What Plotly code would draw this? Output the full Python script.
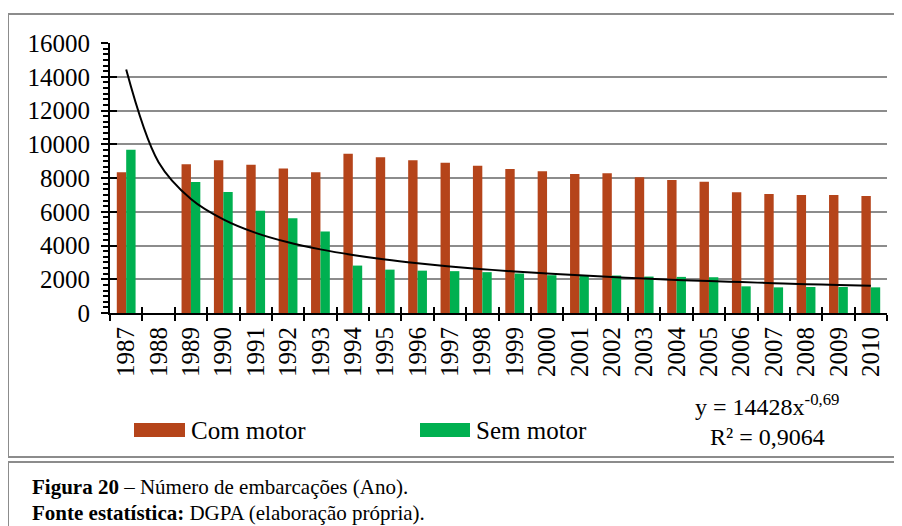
import plotly.graph_objects as go

# ================================ Datos ================================
anos = [str(a) for a in range(1987, 2011)]

com_motor = [8340, None, 8810, 9050, 8790, 8570, 8340, 9430, 9230, 9050, 8910, 8730,
             8530, 8400, 8240, 8280, 8040, 7880, 7780, 7150, 7050, 6990, 6990, 6930]

sem_motor = [9680, None, 7760, 7170, 6060, 5620, 4830, 2810, 2570, 2510, 2480, 2420,
             2340, 2240, 2240, 2220, 2160, 2140, 2120, 1580, 1520, 1540, 1540, 1520]

# tendencia potencial (valores lidos sobre a curva)
tendencia = [14430, 8940, 6760, 5550, 4750, 4190, 3770, 3440, 3170, 2950, 2760, 2600,
             2460, 2340, 2230, 2130, 2040, 1960, 1890, 1830, 1770, 1710, 1660, 1610]

y_ticks = [0, 2000, 4000, 6000, 8000, 10000, 12000, 14000, 16000]

# ================================ Configuração ================================
OFF = 8  # margem do body da página
W, H = 902 - OFF, 526 - OFF
L, R, T, B = 110 - OFF, 15, 43 - OFF, 213
PW, PH = W - L - R, H - T - B
FONT = 'Liberation Serif, DejaVu Serif, serif'
LARANJA = '#B5441A'
VERDE = '#00B050'
CINZA = '#8C8C8C'


def px_x(p):
    return (p - OFF - L) / PW


def px_y(p):
    return (H - B - (p - OFF)) / PH


def linha(x0, y0, x1, y1):
    fig.add_shape(type='line', xref='paper', yref='paper',
                  x0=px_x(x0), x1=px_x(x1), y0=px_y(y0), y1=px_y(y1),
                  line=dict(color=CINZA, width=2), layer='below')


fig = go.Figure()
fig.add_trace(go.Bar(x=anos, y=com_motor, name='Com motor', marker_color=LARANJA,
                     marker_line_width=0))
fig.add_trace(go.Bar(x=anos, y=sem_motor, name='Sem motor', marker_color=VERDE,
                     marker_line_width=0))
fig.add_trace(go.Scatter(x=anos, y=tendencia, mode='lines', line=dict(color='black', width=2, shape='spline'),
                         showlegend=False, hoverinfo='skip'))
# eixo auxiliar para as marcas cruzadas
fig.add_trace(go.Scatter(x=anos, y=[None] * len(anos), xaxis='x2', yaxis='y2',
                         mode='lines', showlegend=False, hoverinfo='skip'))

fig.update_layout(
    width=W, height=H,
    margin=dict(l=L, r=R, t=T, b=B),
    paper_bgcolor='white', plot_bgcolor='white',
    barmode='group', bargap=0.42, bargroupgap=0,
    showlegend=False,
    font=dict(family=FONT, size=24, color='black'),
    xaxis=dict(
        type='category', categoryarray=anos, range=[-0.5, 23.5],
        tickson='boundaries', ticks='outside', ticklen=6, tickwidth=2, tickcolor='black',
        showline=True, linecolor='black', linewidth=2, showgrid=False,
        tickangle=-90, tickfont=dict(family=FONT, size=25), ticklabelstandoff=2,
    ),
    yaxis=dict(
        range=[0, 16000], tickvals=y_ticks, tickformat='d', ticks='outside', ticklen=7, tickwidth=2,
        tickcolor='black', showline=True, linecolor='black', linewidth=2,
        showgrid=True, gridcolor=CINZA, gridwidth=2, zeroline=False,
        tickfont=dict(family=FONT, size=25), ticklabelstandoff=6,
        minor=dict(dtick=2000 / 6, ticks='outside', ticklen=5, tickwidth=2, tickcolor='black',
                   showgrid=False),
    ),
    xaxis2=dict(
        type='category', categoryarray=anos, range=[-0.5, 23.5], overlaying='x',
        tickson='boundaries', ticks='inside', ticklen=6, tickwidth=2, tickcolor='black',
        showticklabels=False, showgrid=False, showline=False, anchor='y2',
    ),
    yaxis2=dict(
        range=[0, 16000], tickvals=y_ticks, overlaying='y', ticks='inside', ticklen=7,
        tickwidth=2, tickcolor='black', showticklabels=False, showgrid=False,
        showline=False, zeroline=False, anchor='x2',
    ),
)

# molduras (sem lado direito visível)
linha(8, 14, 905, 14)
linha(8, 14, 8, 457)
linha(8, 457, 905, 457)
linha(8, 462, 905, 462)
linha(8, 462, 8, 530)

# legenda
fig.add_shape(type='rect', xref='paper', yref='paper',
              x0=px_x(134), x1=px_x(185), y0=px_y(437), y1=px_y(423),
              fillcolor=LARANJA, line_width=0)
fig.add_shape(type='rect', xref='paper', yref='paper',
              x0=px_x(420), x1=px_x(470), y0=px_y(437), y1=px_y(423),
              fillcolor=VERDE, line_width=0)
fig.add_annotation(text='Com motor', xref='paper', yref='paper', x=px_x(189), y=px_y(430),
                   xanchor='left', yanchor='middle', showarrow=False, font=dict(size=25))
fig.add_annotation(text='Sem motor', xref='paper', yref='paper', x=px_x(474), y=px_y(430),
                   xanchor='left', yanchor='middle', showarrow=False, font=dict(size=25))

# equação da tendência
fig.add_annotation(text='y = 14428x<sup>-0,69</sup>', xref='paper', yref='paper',
                   x=px_x(767), y=px_y(405), xanchor='center', yanchor='middle',
                   showarrow=False, font=dict(size=24))
fig.add_annotation(text='R² = 0,9064', xref='paper', yref='paper',
                   x=px_x(767), y=px_y(437), xanchor='center', yanchor='middle',
                   showarrow=False, font=dict(size=24))

# legenda da figura
fig.add_annotation(text='<b>Figura 20</b> – Número de embarcações (Ano).', xref='paper', yref='paper',
                   x=px_x(30), y=px_y(487), xanchor='left', yanchor='middle',
                   showarrow=False, font=dict(size=21))
fig.add_annotation(text='<b>Fonte estatística:</b> DGPA (elaboração própria).', xref='paper', yref='paper',
                   x=px_x(30), y=px_y(513), xanchor='left', yanchor='middle',
                   showarrow=False, font=dict(size=21))

fig.write_html('out.html')
